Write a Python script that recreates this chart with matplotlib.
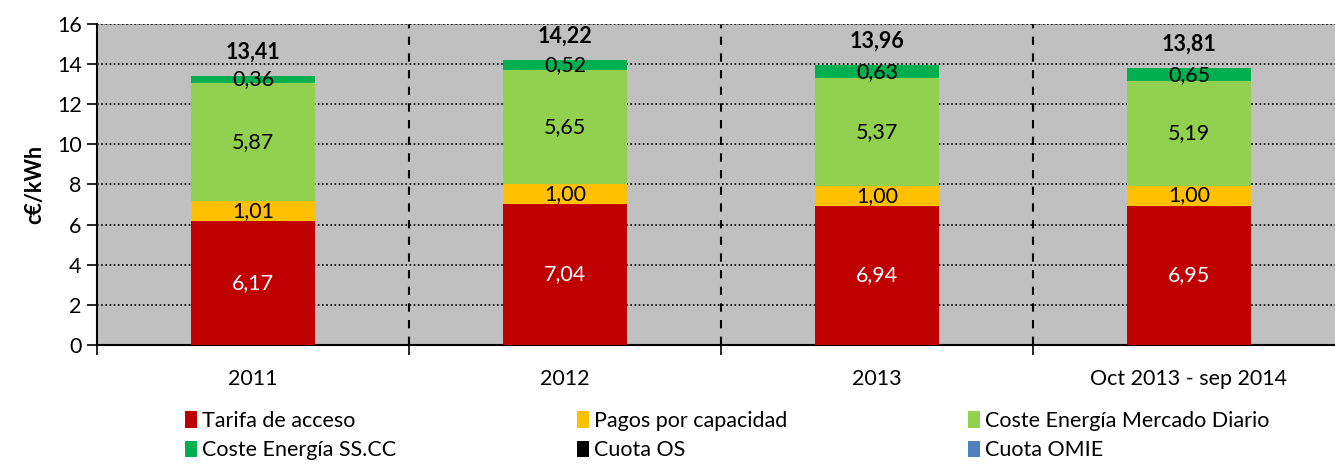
import numpy as np
import matplotlib.pyplot as plt

plt.rcParams['font.family'] = ['Lato', 'DejaVu Sans']

# c€/kWh por componente
years = ["2011", "2012", "2013", "Oct 2013 - sep 2014"]
tarifa = [6.17, 7.04, 6.94, 6.95]
pagos = [1.01, 1.00, 1.00, 1.00]
mercado = [5.87, 5.65, 5.37, 5.19]
sscc = [0.36, 0.52, 0.63, 0.65]
cuota_os = [0.00, 0.01, 0.01, 0.01]
cuota_omie = [0.00, 0.00, 0.01, 0.01]
totales = [13.41, 14.22, 13.96, 13.81]

series = [
    ("Tarifa de acceso", tarifa, "#C00000", "white", True),
    ("Pagos por capacidad", pagos, "#FFC000", "black", True),
    ("Coste Energía Mercado Diario", mercado, "#92D050", "black", True),
    ("Coste Energía SS.CC", sscc, "#00B050", "black", True),
    ("Cuota OS", cuota_os, "#000000", "black", False),
    ("Cuota OMIE", cuota_omie, "#4F81BD", "black", False),
]

FS = 15.5


def fmt(v):
    return "{:.2f}".format(v).replace(".", ",")


fig = plt.figure(figsize=(13.35, 4.65), dpi=100)
ax = fig.add_axes([97 / 1335, 120 / 465, 1248 / 1335, 321 / 465])
ax.set_facecolor("#C0C0C0")

x = np.arange(len(years))
bottom = np.zeros(len(years))
handles = []
for label, vals, color, txtcolor, show in series:
    vals = np.array(vals)
    b = ax.bar(x, vals, width=0.4, bottom=bottom, color=color, label=label,
               zorder=3, linewidth=0)
    handles.append(b)
    if show:
        for xi, v, b0 in zip(x, vals, bottom):
            ax.text(xi, b0 + v / 2, fmt(v), ha="center", va="center",
                    fontsize=FS, color=txtcolor, zorder=4)
    bottom += vals

for xi, t in zip(x, totales):
    ax.annotate(fmt(t), (xi, bottom[xi]), xytext=(0, 17),
                textcoords="offset points", ha="center", va="center",
                fontsize=FS, fontweight="bold", zorder=4)

ax.set_xlim(-0.5, 3.5)
ax.set_ylim(0, 16)
ax.set_yticks(range(0, 17, 2))
ax.set_xticks(x)
ax.set_xticklabels(years)
ax.set_xticks(np.arange(-0.5, 3.6, 1), minor=True)
ax.tick_params(axis="x", which="major", length=0, pad=17, labelsize=FS)
ax.tick_params(axis="x", which="minor", length=7, width=1.2, direction="out")
ax.tick_params(axis="y", length=7, width=1.2, labelsize=FS, pad=4)

ax.yaxis.grid(True, linestyle=(0, (1, 1.5)), color="black", linewidth=1.2, zorder=1)
for xv in [0.5, 1.5, 2.5]:
    ax.axvline(xv, color="black", linestyle=(0, (4, 4)), linewidth=1.5, zorder=1)

for side in ["top", "right"]:
    ax.spines[side].set_visible(False)
ax.spines["left"].set_linewidth(1.5)
ax.spines["bottom"].set_linewidth(1.5)
ax.axhline(16, color="#808080", linestyle=(0, (1, 1)), linewidth=1.2, zorder=1)

ax.set_ylabel("c€/kWh", fontsize=FS, fontweight="bold", labelpad=8)

# matplotlib fills the legend column by column; reorder so rows read left to right
order = [0, 3, 1, 4, 2, 5]
fig.legend(handles=[handles[i] for i in order], loc="upper left",
           bbox_to_anchor=(174 / 1335, 1 - 400 / 465),
           ncol=3, frameon=False, fontsize=FS, handlelength=0.55, handleheight=0.8,
           handletextpad=0.25, columnspacing=8.4, labelspacing=0.45, borderpad=0)

fig.savefig("out.png", dpi=100)
